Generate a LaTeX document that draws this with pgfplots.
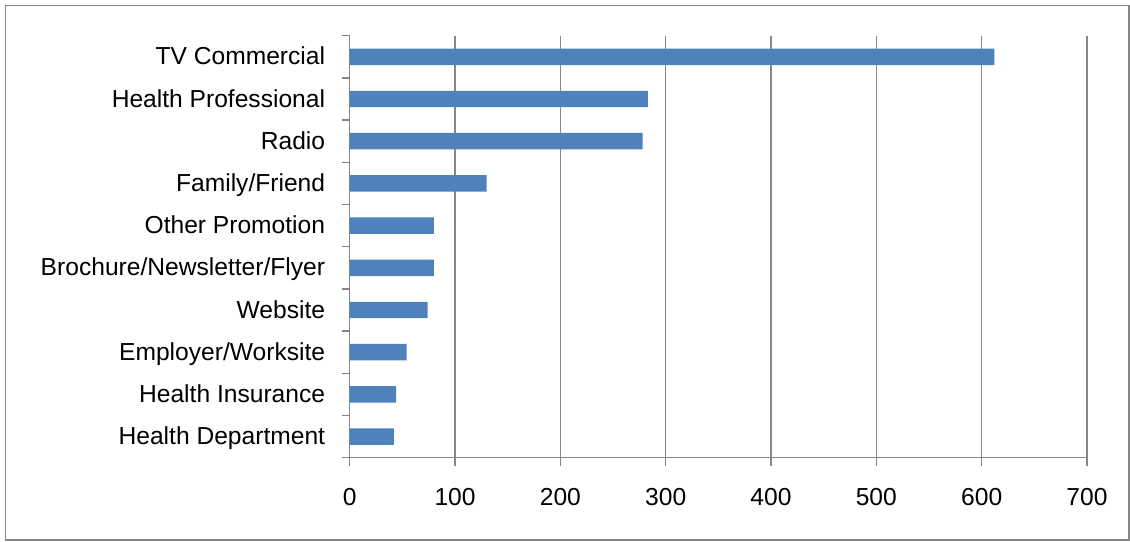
\documentclass[border=0pt]{standalone}
\usepackage{fontspec}
\setmainfont{Liberation Sans}
\usepackage{pgfplots}
\pgfplotsset{compat=1.18}
\definecolor{barblue}{HTML}{4F81BD}
\definecolor{gridgray}{HTML}{868686}
\begin{document}
\fontsize{12.3bp}{14.8bp}\selectfont
\begin{tikzpicture}
\useasboundingbox (0,0) rectangle (565bp,271bp);
\draw[gridgray, line width=0.7bp] (2.75bp,1bp) rectangle (564.4bp,268.25bp);
\begin{axis}[
  at={(174.85bp,42.15bp)}, anchor=south west,
  scale only axis, width=368.65bp, height=211bp,
  xbar, bar width=0.39,
  xmin=0, xmax=700, ymin=-0.5, ymax=9.5,
  xtick={0,100,...,700},
  xmajorgrids, grid style={draw=gridgray, line width=0.7bp},
  axis x line*=bottom, axis y line*=left,
  axis line style={draw=gridgray, line width=0.7bp},
  tick style={draw=gridgray, line width=0.7bp},
  tick align=outside, major tick length=4bp,
  ytick={-0.5,0.5,...,9.5}, yticklabels={},
  extra y ticks={0,1,2,3,4,5,6,7,8,9},
  extra y tick labels={Health Department,Health Insurance,Employer/Worksite,Website,Brochure/Newsletter/Flyer,Other Promotion,Family/Friend,Radio,Health Professional,TV Commercial},
  extra y tick style={major tick length=0pt, yticklabel style={anchor=mid east, xshift=-8bp, yshift=-0.8bp}},
  /pgf/number format/assume math mode=true,
  ticklabel style={font=\fontsize{12.3bp}{14.8bp}\selectfont, text=black},
  xticklabel style={yshift=-7bp},
]
\addplot[fill=barblue, draw=none] coordinates {
(42,0) (44,1) (54,2) (74,3) (80,4) (80,5) (130,6) (278,7) (283,8) (612,9)
};
\end{axis}
\end{tikzpicture}
\end{document}
